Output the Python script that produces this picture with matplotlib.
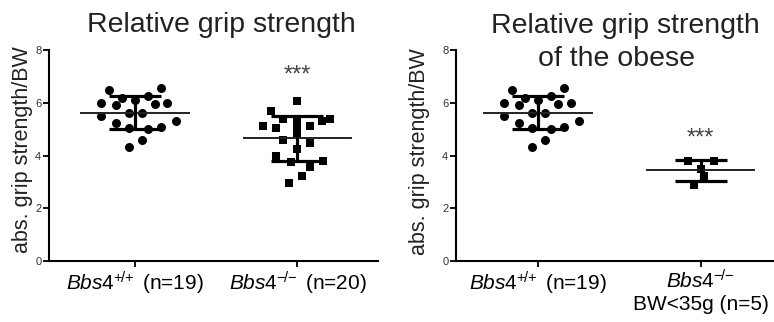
import numpy as np
import matplotlib
matplotlib.use("Agg")
import matplotlib.pyplot as plt

plt.rcParams['font.family'] = ['Liberation Sans', 'DejaVu Sans']
plt.rcParams['mathtext.fontset'] = 'custom'
plt.rcParams['mathtext.rm'] = 'Liberation Sans'
plt.rcParams['mathtext.it'] = 'Liberation Sans:italic'

# grip strength / body weight
wt_values = [6.48, 6.55, 6.00, 5.91, 6.17, 6.10, 6.26, 5.95, 6.00, 5.51,
             5.60, 5.62, 5.32, 5.22, 5.03, 4.99, 5.09, 4.59, 4.33]
wt_jitter = [-0.16, 0.16, -0.21, -0.12, -0.08, 0.0, 0.08, 0.12, 0.20, -0.21,
             -0.04, 0.04, 0.25, -0.12, -0.04, 0.08, 0.16, 0.04, -0.04]

ko_values = [6.08, 5.70, 5.37, 5.37, 5.12, 5.32, 5.37, 5.12, 5.03, 4.84,
             4.59, 4.49, 4.24, 3.98, 3.77, 3.79, 3.55, 3.22, 2.97, 5.09]
ko_jitter = [0.0, -0.16, -0.09, 0.0, 0.08, 0.15, 0.20, -0.21, -0.13, 0.0,
             -0.09, 0.08, 0.0, -0.13, -0.04, 0.16, 0.08, 0.03, -0.05, 0.0]

obese_values = [3.78, 3.78, 3.50, 3.22, 2.88]
obese_jitter = [-0.08, 0.08, 0.0, 0.02, -0.04]

left_labels = [r'$\mathit{Bbs4}^{+\!/\!+}$ (n=19)', r'$\mathit{Bbs4}^{-\!/\!-}$ (n=20)']
right_labels = [r'$\mathit{Bbs4}^{+\!/\!+}$ (n=19)', r'$\mathit{Bbs4}^{-\!/\!-}$' + '\nBW<35g (n=5)']


def dot_group(ax, xpos, values, jitter, marker, size):
    vals = np.array(values)
    ax.scatter(xpos + np.array(jitter), vals, marker=marker, s=size,
               color='black', linewidths=0, zorder=3)
    m = vals.mean()
    sd = vals.std(ddof=1)
    ax.plot([xpos - 0.33, xpos + 0.33], [m, m], color='#222222', lw=1.4, zorder=4)
    ax.errorbar([xpos], [m], yerr=[sd], fmt='none', ecolor='black',
                elinewidth=2.3, capsize=19, capthick=2.3, zorder=4)


def style_axes(ax, labels, xlim):
    ax.set_xlim(*xlim)
    ax.set_ylim(0, 8)
    ax.spines['top'].set_visible(False)
    ax.spines['right'].set_visible(False)
    ax.spines['left'].set_linewidth(1.5)
    ax.spines['bottom'].set_linewidth(1.5)
    ax.set_yticks([0, 2, 4, 6, 8])
    ax.tick_params(axis='y', length=4, width=1.3, pad=1.5, labelsize=8, labelcolor='#333333')
    ax.set_xticks([0, 1])
    ax.set_xticklabels(labels, fontsize=15, linespacing=1.15)
    ax.tick_params(axis='x', length=4, width=1.3, pad=2)
    ax.patch.set_alpha(0)


fig = plt.figure(figsize=(7.74, 3.22), dpi=100)
W, H = 774, 322

ax1 = fig.add_axes([49 / W, 1 - 261 / H, (378 - 49) / W, 211 / H])
dot_group(ax1, 0, wt_values, wt_jitter, 'o', 42)
dot_group(ax1, 1, ko_values, ko_jitter, 's', 38)
style_axes(ax1, left_labels, (-0.53, 1.497))
ax1.text(1, 7.05, '***', ha='center', va='center', fontsize=17, color='#444444')

ax2 = fig.add_axes([456 / W, 1 - 261 / H, (774 - 456) / W, 211 / H])
dot_group(ax2, 0, wt_values, wt_jitter, 'o', 42)
dot_group(ax2, 1, obese_values, obese_jitter, 's', 38)
style_axes(ax2, right_labels, (-0.505, 1.452))
ax2.text(1, 4.66, '***', ha='center', va='center', fontsize=17, color='#444444')

fig.text(221 / W, 1 - 32 / H, 'Relative grip strength', ha='center', va='baseline', fontsize=20.5, color='#222222')
fig.text(625 / W, 1 - 33 / H, 'Relative grip strength', ha='center', va='baseline', fontsize=20.5, color='#222222')
fig.text(617 / W, 1 - 66 / H, 'of the obese', ha='center', va='baseline', fontsize=20.5, color='#222222')

fig.text(23 / W, 1 - 150 / H, 'abs. grip strength/BW', rotation=90, ha='center', va='center', fontsize=15.5, color='#222222')
fig.text(419 / W, 1 - 152 / H, 'abs. grip strength/BW', rotation=90, ha='center', va='center', fontsize=15.5, color='#222222')

fig.savefig('out.png', dpi=100)
